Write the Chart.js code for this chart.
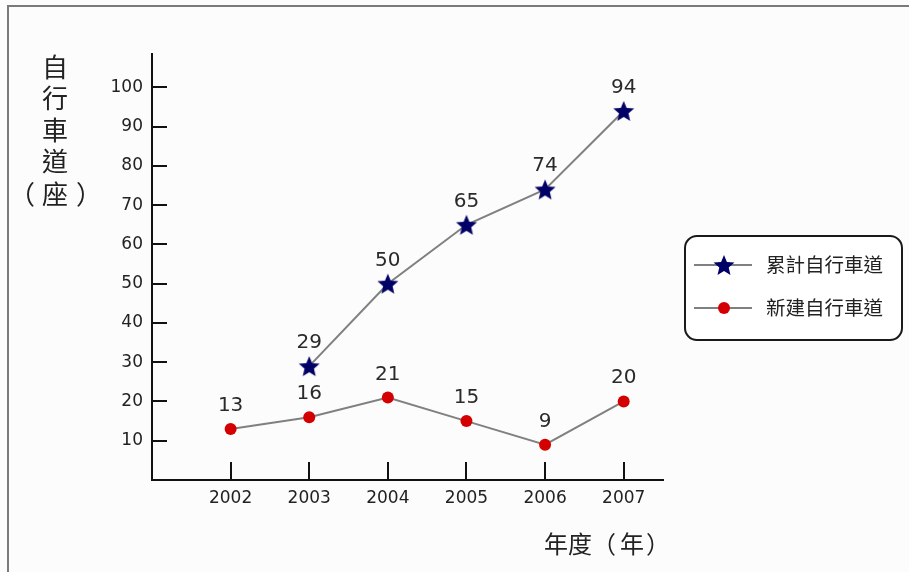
<!DOCTYPE html>
<html>
<head>
<meta charset="utf-8">
<script src="https://cdn.jsdelivr.net/npm/chart.js@4/dist/chart.umd.min.js"></script>
<style>
  html, body { margin: 0; padding: 0; background: #fcfcfc; }
  #wrap { width: 909px; height: 572px; }
</style>
</head>
<body>
<div id="wrap"><canvas id="c" width="909" height="572"></canvas></div>
<script>
// ---- data ----
const years = [2002, 2003, 2004, 2005, 2006, 2007];
const cumulative = [null, 29, 50, 65, 74, 94];   // 累計自行車道
const newBuilt = [13, 16, 21, 15, 9, 20];        // 新建自行車道
const seriesNames = ['累計自行車道', '新建自行車道'];
const yTickValues = [10, 20, 30, 40, 50, 60, 70, 80, 90, 100];
const yTitle = '自行車道（座）';
const xTitle = '年度（年）';

const NUM_FONT = '"DejaVu Sans", "Liberation Sans", sans-serif';
const CJK_FONT = '"Noto Sans CJK TC", "Noto Sans CJK SC", sans-serif';
const TEXT = '#222';

// star marker image
function makeStar(r, color) {
  const size = Math.ceil(r * 2 + 4);
  const cv = document.createElement('canvas');
  cv.width = size; cv.height = size;
  const g = cv.getContext('2d');
  const cx = size / 2, cy = size / 2 + 1;
  g.beginPath();
  for (let i = 0; i < 10; i++) {
    const rad = i % 2 === 0 ? r : r * 0.45;
    const a = -Math.PI / 2 + i * Math.PI / 5;
    const px = cx + rad * Math.cos(a), py = cy + rad * Math.sin(a);
    if (i === 0) g.moveTo(px, py); else g.lineTo(px, py);
  }
  g.closePath();
  g.fillStyle = color;
  g.fill();
  return cv;
}
const starImg = makeStar(11, '#000066');

const toPts = arr => years.map((y, i) => ({ x: y, y: arr[i] })).filter(p => p.y !== null);

const framePlugin = {
  id: 'frame',
  beforeDraw(chart) {
    const ctx = chart.ctx;
    ctx.save();
    ctx.fillStyle = '#fcfcfc';
    ctx.fillRect(0, 0, chart.width, chart.height);
    ctx.strokeStyle = '#7a7a7a';
    ctx.lineWidth = 2;
    ctx.beginPath();
    ctx.moveTo(8, 572); ctx.lineTo(8, 6); ctx.lineTo(909, 6);
    ctx.stroke();
    ctx.restore();
  }
};

const decorPlugin = {
  id: 'decor',
  afterDraw(chart) {
    const ctx = chart.ctx;
    const xs = chart.scales.x, ys = chart.scales.y;
    ctx.save();
    // inner tick marks
    ctx.strokeStyle = '#111';
    ctx.lineWidth = 2;
    yTickValues.forEach(v => {
      const py = Math.round(ys.getPixelForValue(v));
      ctx.beginPath(); ctx.moveTo(xs.left, py); ctx.lineTo(xs.left + 15, py); ctx.stroke();
    });
    years.forEach(v => {
      const px = Math.round(xs.getPixelForValue(v));
      ctx.beginPath(); ctx.moveTo(px, ys.bottom); ctx.lineTo(px, ys.bottom - 18); ctx.stroke();
    });
    // data labels
    ctx.fillStyle = '#2a2a2a';
    ctx.font = '20px ' + NUM_FONT;
    ctx.textAlign = 'center';
    ctx.textBaseline = 'alphabetic';
    chart.data.datasets.forEach((ds, di) => {
      const meta = chart.getDatasetMeta(di);
      meta.data.forEach((el, i) => {
        ctx.fillText(String(ds.data[i].y), el.x, el.y - 18);
      });
    });
    // y title (vertical)
    ctx.fillStyle = TEXT;
    ctx.font = '26px ' + CJK_FONT;
    ctx.textBaseline = 'middle';
    const vchars = ['自', '行', '車', '道'];
    vchars.forEach((ch, i) => ctx.fillText(ch, 55, 67 + i * 31.5));
    ctx.fillText('（', 22, 194);
    ctx.fillText('座', 55, 194);
    ctx.fillText('）', 89, 194);
    // x title
    ctx.font = '24px ' + CJK_FONT;
    ctx.textAlign = 'left';
    ctx.fillText('年度', 544, 544);
    ctx.fillText('（', 592, 544);
    ctx.fillText('年', 620, 544);
    ctx.fillText('）', 646, 544);
    // legend box
    const bx = 685, by = 236, bw = 217, bh = 104, br = 12;
    ctx.fillStyle = '#ffffff';
    ctx.strokeStyle = '#1a1a1a';
    ctx.lineWidth = 2;
    ctx.beginPath();
    ctx.roundRect(bx, by, bw, bh, br);
    ctx.fill(); ctx.stroke();
    const rows = [265, 308];
    chart.data.datasets.forEach((ds, di) => {
      const ry = rows[di];
      ctx.strokeStyle = ds.borderColor;
      ctx.lineWidth = 2;
      ctx.beginPath(); ctx.moveTo(694, ry); ctx.lineTo(752, ry); ctx.stroke();
      if (di === 0) {
        ctx.drawImage(starImg, 724 - starImg.width / 2, ry - starImg.height / 2);
      } else {
        ctx.fillStyle = ds.pointBackgroundColor;
        ctx.beginPath(); ctx.arc(724, ry, 6, 0, Math.PI * 2); ctx.fill();
      }
      ctx.fillStyle = TEXT;
      ctx.font = '19.5px ' + CJK_FONT;
      ctx.textAlign = 'left';
      ctx.textBaseline = 'middle';
      ctx.fillText(seriesNames[di], 766, ry);
    });
    ctx.restore();
  }
};

new Chart(document.getElementById('c'), {
  type: 'line',
  data: {
    datasets: [
      {
        label: seriesNames[0],
        data: toPts(cumulative),
        borderColor: '#808080',
        borderWidth: 2,
        pointStyle: starImg,
        pointBackgroundColor: '#000066',
        tension: 0
      },
      {
        label: seriesNames[1],
        data: toPts(newBuilt),
        borderColor: '#808080',
        borderWidth: 2,
        pointStyle: 'circle',
        pointRadius: 6,
        pointBorderWidth: 0,
        pointBackgroundColor: '#d40000',
        tension: 0
      }
    ]
  },
  options: {
    responsive: false,
    animation: false,
    events: [],
    layout: { padding: { top: 54, right: 246, bottom: 0, left: 0 } },
    plugins: { legend: { display: false }, tooltip: { enabled: false } },
    scales: {
      x: {
        type: 'linear',
        min: 2001,
        max: 2007.5,
        afterFit(s) { s.height = 92; },
        grid: { display: false, drawTicks: false },
        border: { display: true, color: '#111', width: 2 },
        ticks: {
          stepSize: 1,
          includeBounds: false,
          autoSkip: false,
          maxRotation: 0,
          padding: 8,
          color: TEXT,
          font: { family: NUM_FONT, size: 17 },
          callback: v => years.includes(v) ? String(v) : ''
        }
      },
      y: {
        type: 'linear',
        min: 0,
        max: 108.5,
        afterFit(s) { s.width = 152; },
        grid: { display: false, drawTicks: false },
        border: { display: true, color: '#111', width: 2 },
        ticks: {
          stepSize: 10,
          includeBounds: false,
          padding: 9,
          color: TEXT,
          font: { family: NUM_FONT, size: 17 },
          callback: v => yTickValues.includes(v) ? String(v) : ''
        }
      }
    }
  },
  plugins: [framePlugin, decorPlugin]
});
</script>
</body>
</html>
